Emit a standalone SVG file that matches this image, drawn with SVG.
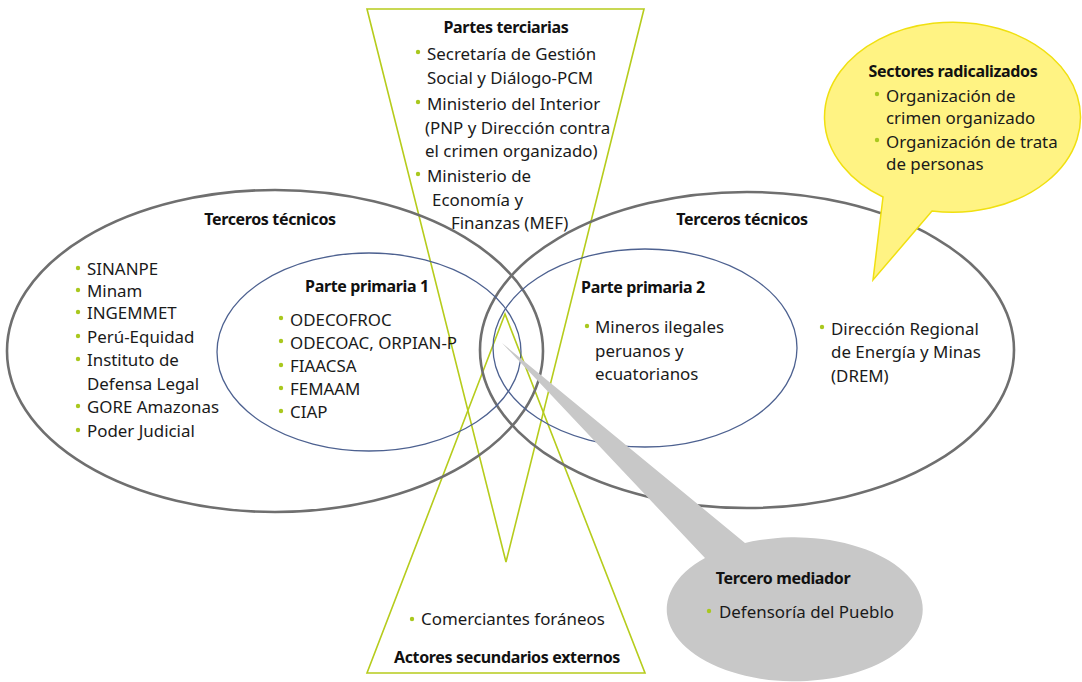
<svg xmlns="http://www.w3.org/2000/svg" width="1082" height="682" viewBox="0 0 1082 682">
<style>
.big{fill:none;stroke:#6f6f6f;stroke-width:2.6}
.inner{fill:none;stroke:#4d6190;stroke-width:1.3}
.tri{fill:none;stroke:#b6cc1c;stroke-width:1.6}
.t{font-family:"Noto Sans","Open Sans",sans-serif;font-size:16.9px;fill:#1a1a1a}
.h{font-family:"Noto Sans","Open Sans",sans-serif;font-size:16px;font-weight:bold;fill:#111;letter-spacing:-0.35px}
.b{fill:#a9c81e}
</style>
<rect width="1082" height="682" fill="#fff"/>
<g id="connectors">
<polygon class="tri" points="367,9 644,9 506,562"/>
<polygon class="tri" points="505,314 367,673 645,673"/>
</g>
<g id="terceros-izq">
<ellipse class="big" cx="275" cy="351" rx="268" ry="161"/>
<text class="h" x="270" y="225" text-anchor="middle">Terceros técnicos</text>
<g class="b"><circle cx="78" cy="268" r="2.2"/><circle cx="78" cy="290" r="2.2"/><circle cx="78" cy="312" r="2.2"/><circle cx="78" cy="336" r="2.2"/><circle cx="78" cy="359" r="2.2"/><circle cx="78" cy="406" r="2.2"/><circle cx="78" cy="430" r="2.2"/></g>
<text class="t"><tspan x="87" y="275">SINANPE</tspan><tspan x="87" y="297">Minam</tspan><tspan x="87" y="319">INGEMMET</tspan><tspan x="87" y="343">Perú-Equidad</tspan><tspan x="87" y="366">Instituto de</tspan><tspan x="87" y="390">Defensa Legal</tspan><tspan x="87" y="413">GORE Amazonas</tspan><tspan x="87" y="437">Poder Judicial</tspan></text>
</g>
<g id="terceros-der">
<ellipse class="big" cx="747" cy="350" rx="267" ry="158"/>
<text class="h" x="742" y="225" text-anchor="middle">Terceros técnicos</text>
<circle class="b" cx="822" cy="327" r="2.2"/>
<text class="t"><tspan x="831" y="335">Dirección Regional</tspan><tspan x="831" y="358">de Energía y Minas</tspan><tspan x="831" y="382">(DREM)</tspan></text>
</g>
<g id="primaria-1">
<ellipse class="inner" cx="369" cy="352" rx="152" ry="99"/>
<text class="h" x="367" y="292" text-anchor="middle">Parte primaria 1</text>
<g class="b"><circle cx="281" cy="318" r="2.2"/><circle cx="281" cy="341" r="2.2"/><circle cx="281" cy="365" r="2.2"/><circle cx="281" cy="388" r="2.2"/><circle cx="281" cy="411" r="2.2"/></g>
<text class="t"><tspan x="290" y="326">ODECOFROC</tspan><tspan x="290" y="349">ODECOAC, ORPIAN-P</tspan><tspan x="290" y="372">FIAACSA</tspan><tspan x="290" y="395">FEMAAM</tspan><tspan x="290" y="418">CIAP</tspan></text>
</g>
<g id="primaria-2">
<ellipse class="inner" cx="645" cy="348" rx="152" ry="99"/>
<text class="h" x="643" y="293" text-anchor="middle">Parte primaria 2</text>
<circle class="b" cx="587" cy="326" r="2.2"/>
<text class="t"><tspan x="595" y="333">Mineros ilegales</tspan><tspan x="595" y="357">peruanos y</tspan><tspan x="595" y="380">ecuatorianos</tspan></text>
</g>
<g id="partes-terciarias">
<text class="h" x="506" y="33" text-anchor="middle">Partes terciarias</text>
<g class="b"><circle cx="418" cy="52" r="2.2"/><circle cx="418" cy="102" r="2.2"/><circle cx="418" cy="174" r="2.2"/></g>
<text class="t"><tspan x="427" y="60">Secretaría de Gestión</tspan><tspan x="427" y="84">Social y Diálogo-PCM</tspan><tspan x="427" y="110">Ministerio del Interior</tspan><tspan x="425" y="134">(PNP y Dirección contra</tspan><tspan x="425" y="157">el crimen organizado)</tspan><tspan x="427" y="182">Ministerio de</tspan><tspan x="432" y="206">Economía y</tspan><tspan x="451" y="229">Finanzas (MEF)</tspan></text>
</g>
<g id="actores-secundarios">
<circle class="b" cx="412" cy="619" r="2.2"/>
<text class="t" x="421" y="625">Comerciantes foráneos</text>
<text class="h" x="507" y="663" text-anchor="middle">Actores secundarios externos</text>
</g>
<g id="sectores-radicalizados">
<path d="M 932 211 A 128 95 0 1 0 883 197 L 873 280 Z" fill="#fff383" stroke="#f0e010" stroke-width="1.5"/>
<text class="h" x="953" y="77" text-anchor="middle">Sectores radicalizados</text>
<g class="b"><circle cx="877" cy="94" r="2.2"/><circle cx="877" cy="140" r="2.2"/></g>
<text class="t"><tspan x="886" y="102">Organización de</tspan><tspan x="886" y="124">crimen organizado</tspan><tspan x="886" y="148">Organización de trata</tspan><tspan x="886" y="170">de personas</tspan></text>
</g>
<g id="tercero-mediador">
<path d="M 705 558 A 128 72 0 1 0 745 543 L 502 343 Z" fill="#c8c8c8"/>
<text class="h" x="783" y="584" text-anchor="middle">Tercero mediador</text>
<circle class="b" cx="709" cy="611" r="2.2"/>
<text class="t" x="719" y="618">Defensoría del Pueblo</text>
</g>
</svg>
